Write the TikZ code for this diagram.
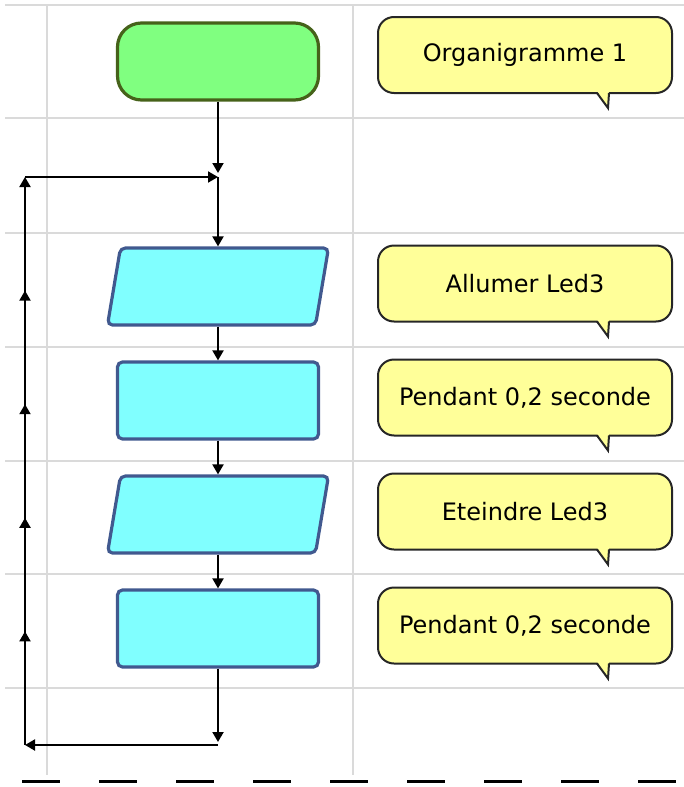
\documentclass[tikz,border=0pt]{standalone}
\usepackage{fontspec}
\setmainfont{DejaVu Sans}
\usepackage{tikz}
\usetikzlibrary{arrows.meta, shapes.geometric, decorations.markings}

\definecolor{vertdebut}{HTML}{80FF80}
\definecolor{bordvert}{HTML}{46621A}
\definecolor{cyanbloc}{HTML}{80FFFF}
\definecolor{bordbleu}{HTML}{41598F}
\definecolor{jaunebulle}{HTML}{FFFF99}
\definecolor{grille}{HTML}{DADADA}

\tikzset{
	debut/.style={rectangle, rounded corners=12pt, fill=vertdebut, draw=bordvert, line width=1.6pt, minimum width=100.5pt, minimum height=38.5pt},
	bloc/.style={rectangle, rounded corners=2.5pt, fill=cyanbloc, draw=bordbleu, line width=1.6pt, minimum width=100.5pt, minimum height=38.5pt},
	entree/.style={bloc, trapezium, trapezium stretches=true, trapezium left angle=86.2, trapezium right angle=93.8, minimum width=110.5pt},
	bulle/.style={rectangle, rounded corners=8pt, fill=jaunebulle, draw=black!85, line width=1pt, minimum width=147pt, minimum height=38pt, outer sep=0pt, font=\fontsize{12}{14}\selectfont},
	retour/.style={postaction={decorate}, decoration={markings, mark=between positions 0.2 and 0.81 step 0.2 with {\arrow{>}}}}
}

% queue de la bulle
\newcommand{\queue}[1]{%
	\fill[jaunebulle] ([xshift=-37.5pt,yshift=1pt]#1.south east) -- ([xshift=-32pt,yshift=-7.5pt]#1.south east) -- ([xshift=-31.5pt,yshift=1pt]#1.south east) -- cycle;
	\draw[black!85, line width=1pt] ([xshift=-37.5pt]#1.south east) -- ([xshift=-32pt,yshift=-7.5pt]#1.south east) -- ([xshift=-31.5pt]#1.south east);}

\begin{document}
\begin{tikzpicture}[x=0.5pt, y=-0.5pt, >={Triangle[length=5pt,width=5.5pt]}, line width=1pt, node distance=57pt]
	\useasboundingbox (0,0) rectangle (684,787);
	% grille
	\foreach \gy in {5,118,233,347,461,574,688}
		\draw[grille] (5,\gy) -- (684,\gy);
	\foreach \gx in {47,353}
		\draw[grille] (\gx,5) -- (\gx,775);
	\draw[line width=1.5pt, dash pattern=on 19pt off 19.5pt] (22,781.5) -- (684,781.5);

	\node[debut]	(start) at (218,61.5)	{};
	\node[entree]	(io1) [below of=start, node distance=112.5pt]	{};
	\node[bloc]		(p1) [below of=io1]	{};
	\node[entree]	(io2) [below of=p1]	{};
	\node[bloc]		(p2) [below of=io2]	{};

	\node[bulle]	(bA) at (525,55)	{Organigramme 1};
	\node[bulle]	(bB) at (525,283.5)	{Allumer Led3};
	\node[bulle]	(bC) at (525,397.5)	{Pendant 0,2 seconde};
	\node[bulle]	(bD) at (525,511.5)	{Eteindre Led3};
	\node[bulle]	(bE) at (525,625.5)	{Pendant 0,2 seconde};
	\queue{bA} \queue{bB} \queue{bC} \queue{bD} \queue{bE}

	\coordinate (haut) at (218,177);
	\coordinate (bas) at (218,745);
	\coordinate (basg) at (25,745);
	\coordinate (hautg) at (25,177);

	\draw[->, shorten >=2pt] (start) -- (haut);
	\draw[->] (haut) -- (io1);
	\draw[->] (io1) -- (p1);
	\draw[->] (p1) -- (io2);
	\draw[->] (io2) -- (p2);
	\draw[->, shorten >=1.5pt] (p2) -- (bas);
	\draw[->] (bas) -- (basg);
	\draw[->, retour] (basg) -- (hautg);
	\draw[->] (hautg) -- (haut);
\end{tikzpicture}
\end{document}
